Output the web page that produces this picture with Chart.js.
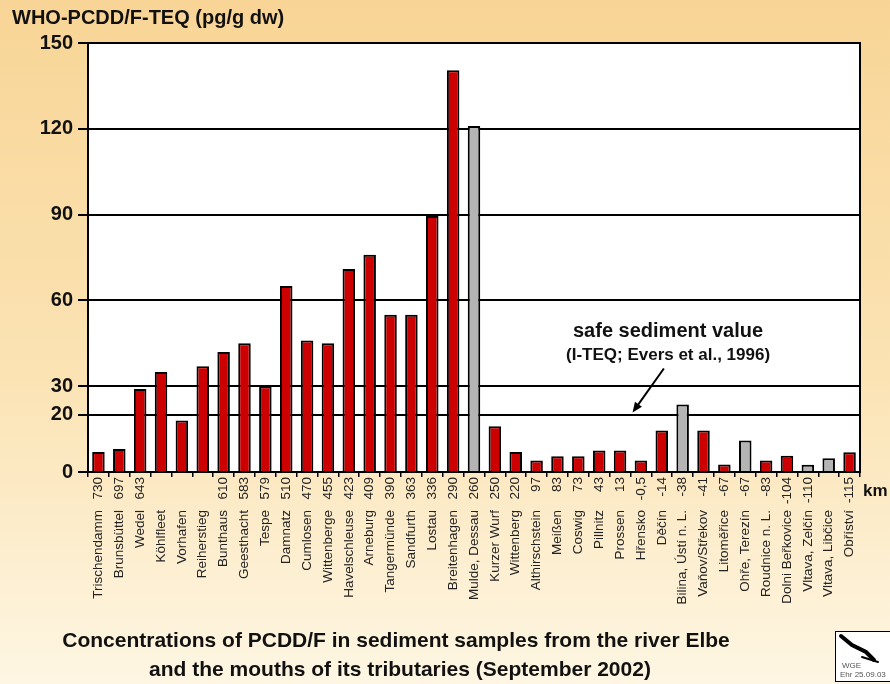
<!DOCTYPE html>
<html>
<head>
<meta charset="utf-8">
<script src="https://cdn.jsdelivr.net/npm/chart.js@4.4.0/dist/chart.umd.min.js"></script>
<style>
html, body { margin: 0; padding: 0; }
body {
    width: 890px; height: 684px; overflow: hidden;
    background: linear-gradient(to bottom, #f8d596 0%, #fbe3b4 55%, #fef6e3 100%);
}
canvas { display: block; }
</style>
</head>
<body>
<canvas id="chart" width="890" height="684"></canvas>
<script>
const sites = ['Trischendamm', 'Brunsbüttel', 'Wedel', 'Köhlfleet', 'Vorhafen', 'Reiherstieg', 'Bunthaus',
    'Geesthacht', 'Tespe', 'Damnatz', 'Cumlosen', 'Wittenberge', 'Havelschleuse', 'Arneburg', 'Tangermünde',
    'Sandfurth', 'Lostau', 'Breitenhagen', 'Mulde, Dessau', 'Kurzer Wurf', 'Wittenberg', 'Althirschstein',
    'Meißen', 'Coswig', 'Pillnitz', 'Prossen', 'Hřensko', 'Děčín', 'Bilina, Ústí n. L.', 'Vaňov/Střekov',
    'Litoměřice', 'Ohře, Terezín', 'Roudnice n. L.', 'Dolni Beřkovice', 'Vltava, Zelčín', 'Vltava, Libčice',
    'Obříství'];
const riverKm = ['730', '697', '643', '', '', '', '610', '583', '579', '510', '470', '455', '423', '409', '390',
    '363', '336', '290', '260', '250', '220', '97', '83', '73', '43', '13', '-0,5', '-14', '-38', '-41', '-67',
    '-67', '-83', '-104', '-110', '', '-115'];
const teq = [7, 8, 29, 35, 18, 37, 42, 45, 30, 65, 46, 45, 71, 76, 55, 55, 89.5, 140.5, 121, 16, 7, 4, 5.5, 5.5,
    7.5, 7.5, 4, 14.5, 23.6, 14.5, 2.6, 11, 4, 5.7, 2.5, 4.8, 6.9];
const tributaries = ['Mulde, Dessau', 'Bilina, Ústí n. L.', 'Ohře, Terezín', 'Vltava, Zelčín', 'Vltava, Libčice'];
const yTicks = [0, 20, 30, 60, 90, 120, 150];

const FONT = '"Liberation Sans", Arial, sans-serif';

const decorations = {
    id: 'decorations',
    beforeDraw(chart) {
        const ctx = chart.ctx;
        const a = chart.chartArea;
        ctx.save();
        ctx.fillStyle = '#ffffff';
        ctx.fillRect(a.left, a.top, a.width, a.height);
        ctx.restore();
    },
    afterDraw(chart) {
        const ctx = chart.ctx;
        const a = chart.chartArea;
        const x = chart.scales.x;
        const y = chart.scales.y;
        const x0 = x.getPixelForValue(0);
        const step = x.getPixelForValue(1) - x0;
        ctx.save();

        // frame
        ctx.strokeStyle = '#000';
        ctx.lineWidth = 2;
        ctx.strokeRect(a.left, a.top, a.width, a.height);

        // axis titles
        ctx.fillStyle = '#111';
        ctx.textBaseline = 'middle';
        ctx.textAlign = 'left';
        ctx.font = 'bold 20px ' + FONT;
        ctx.fillText('WHO-PCDD/F-TEQ (pg/g dw)', 12, 18);
        ctx.font = 'bold 17px ' + FONT;
        ctx.fillText('km', a.right + 3, 491);

        // safe sediment value note
        const tx = x0 + 27.3 * step;
        ctx.textAlign = 'center';
        ctx.font = 'bold 20px ' + FONT;
        ctx.fillText('safe sediment value', tx, y.getPixelForValue(49));
        ctx.font = 'bold 17px ' + FONT;
        ctx.fillText('(I-TEQ; Evers et al., 1996)', tx, y.getPixelForValue(40.8));

        const ax1 = x0 + 27.1 * step, ay1 = y.getPixelForValue(36.2);
        const ax2 = x0 + 25.6 * step, ay2 = y.getPixelForValue(20.8);
        const ang = Math.atan2(ay2 - ay1, ax2 - ax1);
        ctx.strokeStyle = '#000';
        ctx.lineWidth = 2;
        ctx.beginPath();
        ctx.moveTo(ax1, ay1);
        ctx.lineTo(ax2 - 6 * Math.cos(ang), ay2 - 6 * Math.sin(ang));
        ctx.stroke();
        ctx.beginPath();
        ctx.moveTo(ax2, ay2);
        ctx.lineTo(ax2 - 11 * Math.cos(ang - 0.4), ay2 - 11 * Math.sin(ang - 0.4));
        ctx.lineTo(ax2 - 11 * Math.cos(ang + 0.4), ay2 - 11 * Math.sin(ang + 0.4));
        ctx.closePath();
        ctx.fillStyle = '#000';
        ctx.fill();

        // caption
        ctx.fillStyle = '#111';
        ctx.font = 'bold 21px ' + FONT;
        ctx.fillText('Concentrations of PCDD/F in sediment samples from the river Elbe', 396, 641);
        ctx.fillText('and the mouths of its tributaries (September 2002)', 400, 670);

        // small logo box
        ctx.fillStyle = '#fff';
        ctx.fillRect(835, 631, 60, 50);
        ctx.strokeStyle = '#000';
        ctx.lineWidth = 1;
        ctx.strokeRect(835.5, 631.5, 60, 50);
        ctx.lineWidth = 4;
        ctx.lineCap = 'round';
        ctx.beginPath();
        ctx.moveTo(841, 636);
        ctx.lineTo(852, 645);
        ctx.lineTo(866, 652);
        ctx.lineTo(874, 660);
        ctx.stroke();
        ctx.lineWidth = 2;
        ctx.beginPath();
        ctx.moveTo(862, 657);
        ctx.lineTo(878, 662);
        ctx.stroke();
        ctx.fillStyle = '#555';
        ctx.textAlign = 'left';
        ctx.font = '8px ' + FONT;
        ctx.fillText('WGE', 842, 666);
        ctx.fillText('Ehr 25.09.03', 840, 675);
        ctx.restore();
    }
};

new Chart(document.getElementById('chart'), {
    type: 'bar',
    data: {
        labels: sites,
        datasets: [{
            data: teq,
            xAxisID: 'x',
            backgroundColor: sites.map(s => tributaries.includes(s) ? '#b4b4b4' : '#cc0000'),
            borderColor: '#000',
            borderWidth: 2,
            borderSkipped: 'bottom',
            barPercentage: 0.6,
            categoryPercentage: 1.0
        }]
    },
    options: {
        responsive: false,
        animation: false,
        events: [],
        layout: { padding: { top: 43, right: 30, bottom: 66, left: 0 } },
        plugins: { legend: { display: false }, tooltip: { enabled: false } },
        scales: {
            x: {
                type: 'category',
                position: 'bottom',
                weight: 1,
                labels: riverKm,
                offset: true,
                afterFit(scale) { scale.height = 36; },
                grid: { drawOnChartArea: false, color: '#000', lineWidth: 1.5, tickLength: 5, offset: true },
                border: { display: false },
                ticks: {
                    autoSkip: false, minRotation: 90, maxRotation: 90, padding: 0,
                    color: '#222', font: { family: FONT, size: 13.5 }
                }
            },
            x2: {
                type: 'category',
                position: 'bottom',
                weight: 2,
                offset: true,
                afterFit(scale) { scale.height = 110; },
                grid: { display: false, drawTicks: false },
                border: { display: false },
                ticks: {
                    autoSkip: false, minRotation: 90, maxRotation: 90, padding: 2,
                    color: '#222', font: { family: FONT, size: 13.5 }
                }
            },
            y: {
                min: 0,
                max: 150,
                afterFit(scale) { scale.width = 88; },
                afterBuildTicks(scale) { scale.ticks = yTicks.map(v => ({ value: v })); },
                grid: { color: '#000', lineWidth: 2, tickLength: 10 },
                border: { display: false },
                ticks: {
                    padding: 5, color: '#111',
                    font: { family: FONT, size: 20, weight: 'bold' }
                }
            }
        }
    },
    plugins: [decorations]
});
</script>
</body>
</html>
